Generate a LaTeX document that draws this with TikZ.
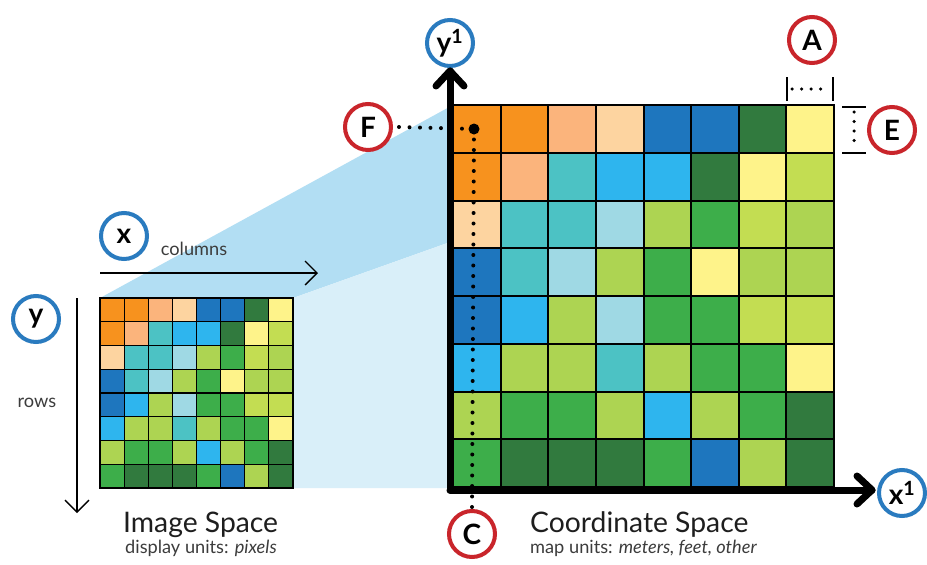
\documentclass[tikz,border=0pt]{standalone}
\usepackage{fontspec}
\setmainfont{Lato}
\usetikzlibrary{arrows.meta}
\definecolor{cO}{HTML}{F7921E}
\definecolor{cP}{HTML}{FBB47C}
\definecolor{cQ}{HTML}{FDD4A0}
\definecolor{cB}{HTML}{1E76BE}
\definecolor{cK}{HTML}{317A3E}
\definecolor{cY}{HTML}{FEF38A}
\definecolor{cT}{HTML}{4CC2C4}
\definecolor{cS}{HTML}{2EB5EE}
\definecolor{cL}{HTML}{9FD9E4}
\definecolor{cG}{HTML}{ADD452}
\definecolor{cH}{HTML}{C3DD52}
\definecolor{cM}{HTML}{3DAE4A}
\definecolor{ringblue}{HTML}{2A7BBF}
\definecolor{ringred}{HTML}{C9252B}
\definecolor{projdark}{HTML}{B2DEF3}
\definecolor{projlight}{HTML}{D9EFF9}
\definecolor{txtdark}{HTML}{1E1E1E}
\definecolor{txtgray}{HTML}{3C3C3C}
\tikzset{
  ring/.style={circle, draw, line width=4pt, minimum size=46pt, inner sep=0pt, fill=white,
    font=\fontsize{28}{28}\selectfont\bfseries, text=black},
  blue ring/.style={ring, draw=ringblue},
  red ring/.style={ring, draw=ringred},
  axisline/.style={line width=7pt, line cap=round, line join=round, black},
  thinarrow/.style={line width=1.3pt, black, -{Straight Barb[length=12pt,width=24pt]}},
  dotline/.style={line width=4pt, line cap=round, dash pattern=on 0pt off 10.5pt},
  smalldot/.style={line width=3.5pt, line cap=round, dash pattern=on 0pt off 9.5pt},
  tick/.style={line width=1.3pt, black},
  title/.style={anchor=base west, inner sep=0pt, text=txtdark, font=\fontsize{28.3}{28}\selectfont},
  subtitle/.style={anchor=base west, inner sep=0pt, text=txtgray, font=\fontsize{18.2}{18}\selectfont},
  smalllabel/.style={anchor=base, inner sep=0pt, text=txtgray, font=\fontsize{18.2}{18}\selectfont}
}
\begin{document}
\begin{tikzpicture}[x=1pt,y=-1pt]
\useasboundingbox (0,0) rectangle (927,565);
\fill[white] (0,0) rectangle (927,565);
% projection
\fill[projdark] (100,298) -- (453,105) -- (453,241) -- (293,298) -- cycle;
\fill[projlight] (293,298) -- (453,241) -- (453,488) -- (293,488) -- cycle;
% grids
\def\gridrows{{cO,cO,cP,cQ,cB,cB,cK,cY},{cO,cP,cT,cS,cS,cK,cY,cH},{cQ,cT,cT,cL,cG,cM,cH,cG},{cB,cT,cL,cG,cM,cY,cG,cG},{cB,cS,cG,cL,cM,cM,cH,cH},{cS,cG,cG,cT,cG,cM,cM,cY},{cG,cM,cM,cG,cS,cG,cM,cK},{cM,cK,cK,cK,cM,cB,cG,cK}}
\foreach \row [count=\r from 0] in \gridrows {
  \foreach \c [count=\k from 0] in \row {
    \filldraw[fill=\c, draw=black, line width=1.1pt] (100+\k*24.125, 298+\r*23.75) rectangle ++(24.125,23.75);
    \filldraw[fill=\c, draw=black, line width=2pt] (453+\k*47.625, 105+\r*47.75) rectangle ++(47.625,47.75);
  }
}
% nodes
\node[blue ring] (cx) at (124,236) {x};
\node[blue ring] (cy) at (36,319) {y};
\node[blue ring] (cyone) at (450,43) {y\textsuperscript{1}};
\node[blue ring] (cxone) at (902,493) {x\textsuperscript{1}};
\node[red ring] (cF) at (368,127) {F};
\node[red ring] (cC) at (472,534) {C};
\node[red ring] (cA) at (812,40) {A};
\node[red ring] (cE) at (892,130) {E};
\node[smalllabel] (cols) at (194,255) {columns};
\node[smalllabel] (rowslbl) at (37,407) {rows};
\node[title] (imgt) at (123,532) {Image Space};
\node[subtitle] (imgs) at (125,553) {display units: \textit{pixels}};
\node[title] (crdt) at (530,532) {Coordinate Space};
\node[subtitle] (crds) at (530,553) {map units: \textit{meters, feet, other}};
% image space arrows
\coordinate (colsA) at (100,273);
\coordinate (colsB) at (318,273);
\coordinate (rowsA) at (77,298);
\coordinate (rowsB) at (77,513);
\draw[thinarrow] (colsA) -- (colsB);
\draw[thinarrow] (rowsA) -- (rowsB);
% axes
\coordinate (origin) at (450,490);
\coordinate (ytip) at (450,71);
\coordinate (xtip) at (872,490);
\draw[axisline] (origin) -- (ytip);
\draw[axisline] (436,86) -- (ytip) -- (464,86);
\draw[axisline] (origin) -- (xtip);
\draw[axisline] (857,476) -- (xtip) -- (857,504);
% F / C dotted lines
\coordinate (fdot) at (474,129);
\draw[dotline] (cF.east) ++(6,0) -- (fdot);
\draw[dotline] (fdot) -- (cC.north);
\fill (fdot) circle (5.5);
% A bracket
\coordinate (aL) at (787,89);
\coordinate (aR) at (833,89);
\draw[tick] (787,77) -- (787,101);
\draw[tick] (833,77) -- (833,101);
\draw[smalldot] ([xshift=5pt]aL) -- ([xshift=-4pt]aR);
% E bracket
\coordinate (eT) at (854,107);
\coordinate (eB) at (854,153);
\draw[tick] (842,107) -- (866,107);
\draw[tick] (842,153) -- (866,153);
\draw[smalldot] ([yshift=-5pt]eT) -- ([yshift=4pt]eB);
\end{tikzpicture}
\end{document}
